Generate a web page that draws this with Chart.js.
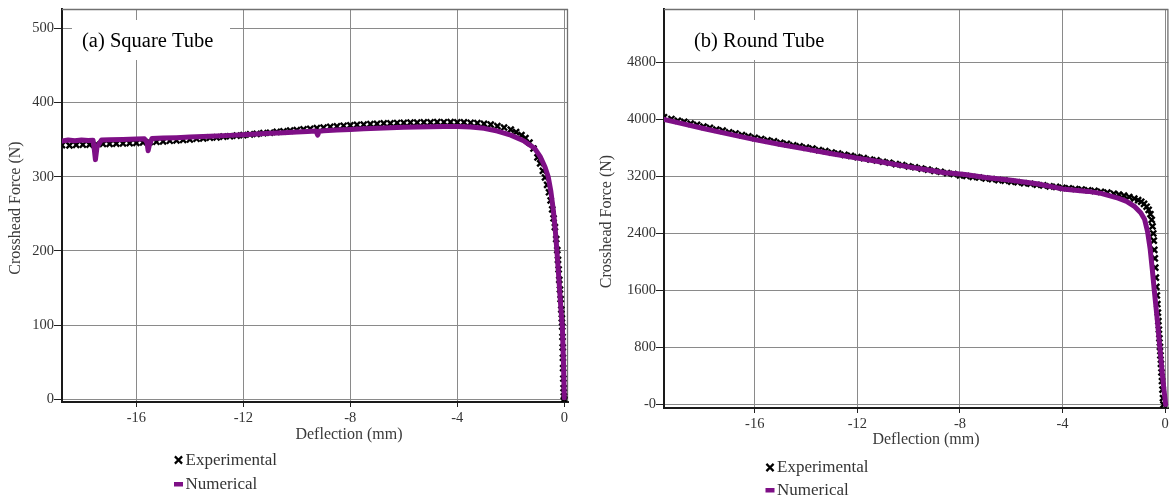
<!DOCTYPE html>
<html><head><meta charset="utf-8">
<script src="https://cdn.jsdelivr.net/npm/chart.js@4.4.0/dist/chart.umd.min.js"></script>
<style>
html,body{margin:0;padding:0;background:#fff;}
#wrap{position:relative;width:1175px;height:497px;overflow:hidden;background:#fff;}
canvas{position:absolute;top:0;}
#cA{left:0;} #cB{left:585px;}
</style></head><body>
<div id="wrap"><canvas id="cA" width="585" height="497"></canvas><canvas id="cB" width="590" height="497"></canvas></div>
<script>
// ---------- data ----------
const seriesNames = ['Experimental', 'Numerical'];
const panelTitles = ['(a) Square Tube', '(b) Round Tube'];
const xTitle = 'Deflection (mm)';
const yTitle = 'Crosshead Force (N)';
const xTicks = [-16, -12, -8, -4, 0];
const xTickLabels = ['-16', '-12', '-8', '-4', '0'];
const yTicksA = [0, 100, 200, 300, 400, 500];
const yTickLabelsA = ['0', '100', '200', '300', '400', '500'];
const yTicksB = [0, 800, 1600, 2400, 3200, 4000, 4800];
const yTickLabelsB = ['-0', '800', '1600', '2400', '3200', '4000', '4800'];

// (a) Square tube - experimental
const expAx = [-18.78,-18.5,-18.25,-18,-17.75,-17.5,-17.25,-17,-16.75,-16.5,-16.25,-16,-15.75,-15.5,-15.25,-15,-14.75,-14.5,-14.25,-14,-13.75,-13.5,-13.25,-13,-12.75,-12.5,-12.25,-12,-11.75,-11.5,-11.25,-11,-10.75,-10.5,-10.25,-10,-9.75,-9.5,-9.25,-9,-8.75,-8.5,-8.25,-8,-7.75,-7.5,-7.25,-7,-6.75,-6.5,-6.25,-6,-5.75,-5.5,-5.25,-5,-4.75,-4.5,-4.25,-4,-3.75,-3.5,-3.25,-3,-2.75,-2.5,-2.25,-2,
  -1.8,-1.6,-1.45,-1.3,-1.15,-1,-0.9,-0.8,-0.72,-0.64,-0.57,-0.51,-0.45,-0.4,-0.35,-0.3,
  -0.26,-0.235,-0.21,-0.185,-0.16,-0.135,-0.11,-0.09,-0.075,-0.065,-0.057,-0.049,-0.041,-0.033,-0.025,-0.015,0];
const expAy = [342.5,342.3,342.9,343.1,343.2,343.8,344.1,344.2,344.6,344.8,345.3,345.5,346.1,346.5,347.1,347.6,348.4,348.8,349.7,350.1,351.1,351.7,352.6,353.0,354.0,354.5,355.4,356.0,357.0,357.7,358.7,359.3,360.4,361.0,362.1,362.7,363.9,364.5,365.6,366.2,367.2,367.8,368.7,369.2,370.0,370.3,371.0,371.2,371.8,371.9,372.4,372.5,372.9,372.9,373.3,373.2,373.5,373.4,373.6,373.3,373.3,372.7,372.3,371.2,370.1,368.2,366.3,363.5,
  360,356,352,346,338,326,318,308,299,289,279,268,256,244,232,216,
  201,188,175,161,148,135,121,109,98,84,70,56,42,28,15,4,0];
// (a) Square tube - numerical
const numAx = [-18.78,-18.55,-18.3,-18.05,-17.8,-17.62,-17.57,-17.53,-17.47,-17.3,-17,-16.5,-16,-15.7,-15.6,-15.56,-15.51,-15.42,-15,-14.5,-14,-13.5,-13,-12.5,-12,-11.5,-11,-10.5,-10,-9.6,-9.28,-9.22,-9.16,-9,-8.5,-8,-7.5,-7,-6.5,-6,-5.5,-5,-4.5,-4,-3.5,-3,-2.5,-2,-1.5,-1.1,-0.9,-0.72,-0.6,-0.5,-0.41,-0.34,-0.27,-0.2,-0.13,-0.07,-0.03,0];
const numAy = [348,349.5,348.4,349.6,348.8,349.2,336,323,340,349.5,349.8,350.3,350.8,351.1,346,335,343,351.4,352,352.6,353.5,354.2,355,355.7,356.6,357.5,358.4,359.3,360.2,361,361.5,356,361.4,362,362.8,363.7,364.5,365.3,366,366.6,367.1,367.4,367.6,367.5,366.9,365.2,361.5,356,348,338,327,313,300,280,255,230,198,162,125,98,50,2];

// (b) Round tube - experimental
const expBx = [-19.54,-19.25,-19,-18.75,-18.5,-18.25,-18,-17.75,-17.5,-17.25,-17,-16.75,-16.5,-16.25,-16,-15.75,-15.5,-15.25,-15,-14.75,-14.5,-14.25,-14,-13.75,-13.5,-13.25,-13,-12.75,-12.5,-12.25,-12,-11.75,-11.5,-11.25,-11,-10.75,-10.5,-10.25,-10,-9.75,-9.5,-9.25,-9,-8.75,-8.5,-8.25,-8,-7.75,-7.5,-7.25,-7,-6.75,-6.5,-6.25,-6,-5.75,-5.5,-5.25,-5,-4.75,-4.5,-4.25,-4,-3.75,-3.5,-3.25,-3,-2.75,-2.5,-2.25,-2,
  -1.8,-1.6,-1.4,-1.2,-1.05,-0.93,-0.82,-0.72,-0.64,-0.57,-0.52,-0.49,-0.46,-0.44,-0.42,-0.4,-0.38,-0.36,-0.34,-0.32,-0.3,-0.28,-0.26,-0.24,-0.22,-0.2,-0.18,-0.16,-0.14,-0.12,-0.1,-0.08,-0.06];
const expBy = [4030,4006,3981,3964,3940,3923,3899,3882,3858,3842,3819,3802,3779,3763,3741,3725,3705,3691,3670,3657,3637,3623,3603,3590,3569,3556,3536,3522,3503,3489,3470,3456,3437,3424,3405,3392,3373,3360,3341,3328,3309,3296,3278,3265,3246,3234,3215,3206,3192,3184,3170,3162,3148,3140,3126,3118,3104,3097,3083,3075,3061,3054,3040,3034,3024,3017,3006,2997,2984,2972,2957,
  2945,2930,2912,2890,2868,2845,2815,2775,2730,2670,2590,2500,2400,2300,2170,2050,1920,1780,1650,1530,1410,1290,1170,1050,930,810,690,570,450,330,210,90,0];
// (b) Round tube - numerical
const numBx = [-19.54,-19,-18,-17,-16,-15,-14,-13,-12,-11,-10,-9,-8.6,-8.2,-7.8,-7.4,-7,-6,-5,-4,-3,-2.5,-1.83,-1.5,-1.18,-0.95,-0.8,-0.68,-0.58,-0.5,-0.42,-0.3,-0.2,-0.1,0.02];
const numBy = [4000,3955,3872,3793,3716,3648,3583,3519,3457,3398,3334,3276,3252,3240,3226,3205,3185,3146,3098,3025,2990,2962,2895,2850,2775,2690,2600,2420,2180,1900,1600,1180,790,400,0];

// ---------- drawing ----------
const SERIF = '"Liberation Serif", "Times New Roman", serif';
const PURPLE = '#7e0f86';

const decor = {
  id: 'decor',
  beforeDatasetsDraw(chart, args, o) {
    const {ctx, chartArea: a} = chart;
    ctx.save();
    ctx.strokeStyle = '#707070';
    ctx.lineWidth = 1.3;
    ctx.beginPath();
    ctx.moveTo(a.left, a.top + 0.5); ctx.lineTo(a.right, a.top + 0.5);
    ctx.moveTo(a.right - 0.5, a.top); ctx.lineTo(a.right - 0.5, a.bottom);
    ctx.stroke();
    ctx.fillStyle = '#fff';
    ctx.fillRect(o.box[0], o.box[1], o.box[2], o.box[3]);
    ctx.fillStyle = '#000';
    ctx.font = '20.5px ' + SERIF;
    ctx.textBaseline = 'middle';
    ctx.textAlign = 'left';
    ctx.fillText(o.title, o.titlePos[0], o.titlePos[1]);
    ctx.restore();
  },
  afterDraw(chart, args, o) {
    const {ctx} = chart;
    ctx.save();
    ctx.fillStyle = '#3a3a3a';
    ctx.font = '16px ' + SERIF;
    ctx.textBaseline = 'middle';
    ctx.textAlign = 'center';
    ctx.fillText(xTitle, o.xTitlePos[0], o.xTitlePos[1]);
    ctx.translate(o.yTitlePos[0], o.yTitlePos[1]);
    ctx.rotate(-Math.PI / 2);
    ctx.fillText(yTitle, 0, 0);
    ctx.restore();
    // legend
    ctx.save();
    ctx.font = '17px ' + SERIF;
    ctx.textBaseline = 'middle';
    ctx.textAlign = 'left';
    chart.data.datasets.forEach((ds, i) => {
      const [mx, my] = o.legend[i];
      if (ds.pointStyle === 'crossRot') {
        ctx.strokeStyle = '#000';
        ctx.lineWidth = 2.2;
        const r = 3.6;
        ctx.beginPath();
        ctx.moveTo(mx - r, my - r); ctx.lineTo(mx + r, my + r);
        ctx.moveTo(mx - r, my + r); ctx.lineTo(mx + r, my - r);
        ctx.stroke();
      } else {
        ctx.fillStyle = ds.borderColor;
        ctx.fillRect(mx - 4.5, my - 2, 9, 4.5);
      }
      ctx.fillStyle = '#333';
      ctx.fillText(ds.label, mx + 7, my + 0.5);
    });
    ctx.restore();
  }
};

function toPts(xs, ys) { return xs.map((x, i) => ({x: x, y: ys[i]})); }

function makeChart(el, cfg) {
  return new Chart(el, {
    type: 'scatter',
    data: {
      datasets: [
        {
          label: seriesNames[0],
          data: toPts(cfg.ex, cfg.ey),
          pointStyle: 'crossRot',
          pointRadius: 4.2,
          pointBorderWidth: 2.4,
          borderColor: '#000',
          backgroundColor: '#000',
          showLine: false,
          order: 2
        },
        {
          label: seriesNames[1],
          data: toPts(cfg.nx, cfg.ny),
          showLine: true,
          borderColor: PURPLE,
          backgroundColor: PURPLE,
          borderWidth: 5,
          borderJoinStyle: 'round',
          borderCapStyle: 'round',
          pointRadius: 0,
          tension: 0,
          order: 1
        }
      ]
    },
    options: {
      responsive: false,
      animation: false,
      devicePixelRatio: 1,
      layout: {padding: cfg.padding},
      plugins: {
        legend: {display: false},
        tooltip: {enabled: false},
        decor: cfg.decor
      },
      scales: {
        x: {
          type: 'linear',
          min: cfg.xmin, max: cfg.xmax,
          afterBuildTicks: s => { s.ticks = xTicks.map(v => ({value: v})); },
          afterFit: s => { s.height = cfg.xH; },
          ticks: {
            autoSkip: false, maxRotation: 0, padding: 2,
            color: '#333', font: {family: SERIF, size: 14.5},
            callback: (v, i) => xTickLabels[i]
          },
          grid: {color: '#8a8a8a', lineWidth: 1, tickLength: 5, tickColor: '#222', drawTicks: true},
          border: {display: true, color: '#1a1a1a', width: 2}
        },
        y: {
          type: 'linear',
          min: cfg.ymin, max: cfg.ymax,
          afterBuildTicks: s => { s.ticks = cfg.yt.map(v => ({value: v})); },
          afterFit: s => { s.width = cfg.yW; },
          ticks: {
            autoSkip: false, padding: 0,
            color: '#333', font: {family: SERIF, size: 14.5},
            callback: (v, i) => cfg.ytl[i]
          },
          grid: {color: '#8a8a8a', lineWidth: 1, tickLength: 8, tickColor: '#222', drawTicks: true},
          border: {display: true, color: '#1a1a1a', width: 2}
        }
      }
    },
    plugins: [decor]
  });
}

makeChart(document.getElementById('cA'), {
  ex: expAx, ey: expAy, nx: numAx, ny: numAy,
  xmin: -18.78, xmax: 0.14, ymin: -3.6, ymax: 526,
  yt: yTicksA, ytl: yTickLabelsA,
  yW: 62, xH: 95,
  padding: {top: 9, right: 17, left: 0, bottom: 0},
  decor: {
    title: panelTitles[0], titlePos: [82, 42], box: [72, 20, 158, 40],
    xTitlePos: [349, 435], yTitlePos: [16, 208],
    legend: [[178.5, 460], [178.5, 484]]
  }
});

makeChart(document.getElementById('cB'), {
  ex: expBx, ey: expBy, nx: numBx, ny: numBy,
  xmin: -19.54, xmax: 0.13, ymin: -48, ymax: 5548,
  yt: yTicksB, ytl: yTickLabelsB,
  yW: 79, xH: 89,
  padding: {top: 9, right: 1, left: 0, bottom: 0},
  decor: {
    title: panelTitles[1], titlePos: [109, 42], box: [100, 20, 152, 40],
    xTitlePos: [341, 440], yTitlePos: [21.5, 221.5],
    legend: [[185, 467.5], [185, 490]]
  }
});
</script>
</body></html>
